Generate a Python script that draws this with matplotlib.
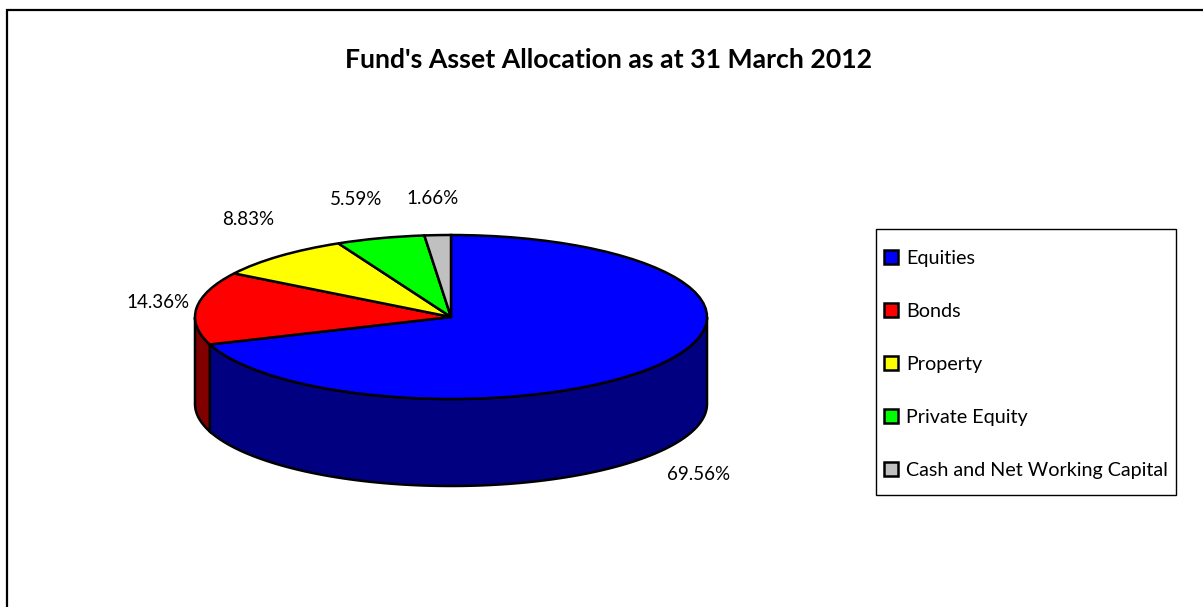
import numpy as np
import matplotlib
matplotlib.use("Agg")
import matplotlib.pyplot as plt
from matplotlib.patches import Rectangle

plt.rcParams['font.family'] = ['Lato', 'DejaVu Sans']

title = "Fund's Asset Allocation as at 31 March 2012"
categories = ["Equities", "Bonds", "Property", "Private Equity", "Cash and Net Working Capital"]
values = [69.56, 14.36, 8.83, 5.59, 1.66]
colors = ["#0000ff", "#ff0000", "#ffff00", "#00ff00", "#c0c0c0"]
side_colors = ["#000080", "#800000", "#808000", "#008000", "#808080"]

W, H = 1203, 607
fig = plt.figure(figsize=(W / 100, H / 100), dpi=100)
fig.patch.set_facecolor("white")

# outer chart frame, only top and left edges are inside the image
fig.add_artist(Rectangle((6.5 / W, -0.1), 1.2, 1.1 - 9.5 / H, transform=fig.transFigure,
                         fill=False, edgecolor="black", linewidth=1.6))

# axes is the bounding box of the squashed pie top
ax = fig.add_axes([195 / W, 1 - 399 / H, 512 / W, 164 / H])
wedges, _ = ax.pie(values, colors=colors, startangle=90, counterclock=False, radius=1,
                   wedgeprops={"edgecolor": "black", "linewidth": 1.8, "zorder": 3})
ax.set_aspect("auto")
ax.set_xlim(-1, 1)
ax.set_ylim(-1, 1)
ax.axis("off")

# side wall of the pie, only the part facing the viewer
depth = 87 / 82
angle = 90.0
for v, c in zip(values, side_colors):
    end = angle - v * 3.6
    a1, a2 = np.deg2rad(end) % (2 * np.pi), np.deg2rad(angle) % (2 * np.pi)
    if a2 <= a1:
        a2 += 2 * np.pi
    lo, hi = max(a1, np.pi), min(a2, 2 * np.pi)
    if hi > lo:
        t = np.linspace(lo, hi, 100)
        xs = np.cos(t)
        ys = np.sin(t)
        ax.fill(np.r_[xs, xs[::-1]], np.r_[ys, ys[::-1] - depth], facecolor=c,
                edgecolor="black", linewidth=1.8, clip_on=False, zorder=2)
    angle = end

# data labels
label_pos = [(699, 475), (158, 303), (248, 219), (356, 200), (433, 198)]
for v, (px, py) in zip(values, label_pos):
    fig.text(px / W, 1 - py / H, f"{v:.2f}%", ha="center", va="center", fontsize=13.5, color="black")

fig.text(609 / W, 1 - 60 / H, title, ha="center", va="center", fontsize=19.2, fontweight="bold")

# legend box is drawn apart so the rows can sit where they do in the original
fig.add_artist(Rectangle((875.5 / W, 1 - 495 / H), 300.5 / W, 266 / H, transform=fig.transFigure,
                         facecolor="white", edgecolor="black", linewidth=1.0))
leg = fig.legend(wedges, categories, loc="upper left", bbox_to_anchor=(884 / W, 1 - 250 / H),
                 bbox_transform=fig.transFigure, fontsize=14.2, frameon=False,
                 borderaxespad=0, borderpad=0,
                 handlelength=0.72, handleheight=0.72, handletextpad=0.42, labelspacing=1.82)

fig.savefig("out.png", dpi=100)
